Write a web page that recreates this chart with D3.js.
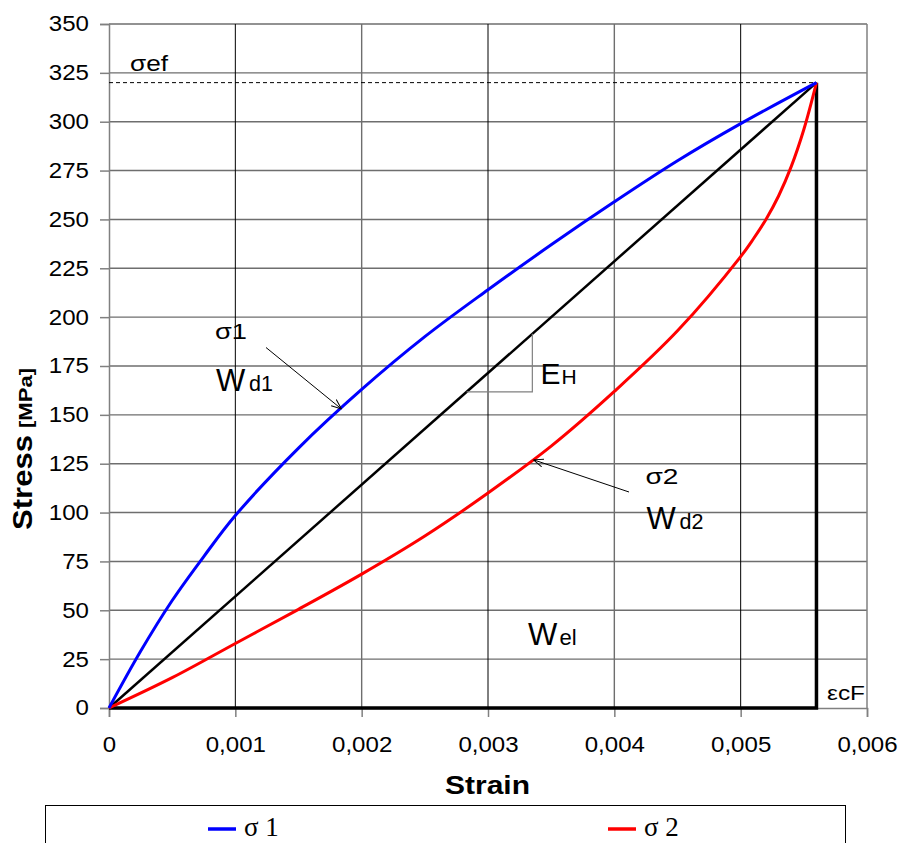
<!DOCTYPE html>
<html><head><meta charset="utf-8">
<script src="https://cdn.jsdelivr.net/npm/d3@7"></script>
<style>body{margin:0;background:#fff}svg{display:block}</style>
</head><body>
<svg id="c" width="899" height="843"></svg>
<script>
// Data
const strainTicks = [0, 0.001, 0.002, 0.003, 0.004, 0.005, 0.006];
const strainTickLabels = ["0", "0,001", "0,002", "0,003", "0,004", "0,005", "0,006"];
const stressTicks = [0, 25, 50, 75, 100, 125, 150, 175, 200, 225, 250, 275, 300, 325, 350];
const sigma1Strain = [0, 0.00025, 0.0005, 0.00075, 0.001, 0.0015, 0.002, 0.0025, 0.003, 0.0035, 0.004, 0.0045, 0.005, 0.0056];
const sigma1Stress = [0, 29, 55, 77.5, 98.5, 133, 163, 190, 214, 237, 259, 280, 299, 320];
const sigma2Strain = [0, 0.0005, 0.001, 0.0015, 0.002, 0.0025, 0.003, 0.0035, 0.004, 0.0045, 0.005, 0.0051, 0.0052, 0.0053, 0.0054, 0.0055, 0.0056];
const sigma2Stress = [0, 15.5, 33, 50.5, 68.5, 88, 110, 134, 162, 193, 231, 240, 250, 262, 277, 296, 320];
const strainF = 0.0056, sigmaEF = 320;
const seriesNames = ["σ 1", "σ 2"];
const seriesColors = ["#0000ff", "#ff0000"];

const svg = d3.select("#c");
const x = d3.scaleLinear().domain([0, 0.006]).range([109, 867]);
const y = d3.scaleLinear().domain([0, 350]).range([708, 24]);
const font = "Liberation Sans, Arial, sans-serif";
const SX = 1.12;

// horizontal grid (gray)
svg.append("g").selectAll("line").data(stressTicks.slice(1)).join("line")
  .attr("x1", x(0)).attr("x2", x(0.006)).attr("y1", d => y(d)).attr("y2", d => y(d))
  .attr("stroke", "#6e6e6e").attr("stroke-width", 1.4);
// vertical grid
svg.append("g").selectAll("line").data(strainTicks.slice(1, -1)).join("line")
  .attr("x1", d => x(d)).attr("x2", d => x(d)).attr("y1", y(0)).attr("y2", y(350))
  .attr("stroke", (d, i) => i % 2 ? "#6e6e6e" : "#000").attr("stroke-width", (d, i) => i % 2 ? 1.4 : 1);
// right border
svg.append("line").attr("x1", x(0.006)).attr("x2", x(0.006)).attr("y1", y(0)).attr("y2", y(350))
  .attr("stroke", "#808080").attr("stroke-width", 1.5);

// axes
const yAxis = d3.axisLeft(y).tickValues(stressTicks).tickSize(9).tickPadding(11);
const gy = svg.append("g").attr("transform", `translate(${x(0)},0)`).call(yAxis);
const xAxis = d3.axisBottom(x).tickValues(strainTicks).tickFormat((d, i) => strainTickLabels[i]).tickSize(9).tickPadding(20);
const gx = svg.append("g").attr("transform", `translate(0,${y(0)})`).call(xAxis);
[gx, gy].forEach(g => {
  g.select(".domain").attr("stroke", "#808080").attr("stroke-width", 1.5);
  g.selectAll(".tick line").attr("stroke", "#808080").attr("stroke-width", 1.5);
  g.selectAll("text").attr("font-family", font).attr("font-size", 21.5).attr("fill", "#000");
});
gy.selectAll(".tick text").attr("x", -20 / SX).attr("transform", `scale(${SX},1)`);
gx.selectAll(".tick text").attr("transform", `scale(${SX},1)`);

// dashed sigma_ef line
svg.append("line").attr("x1", x(0)).attr("x2", x(strainF)).attr("y1", y(sigmaEF)).attr("y2", y(sigmaEF))
  .attr("stroke", "#000").attr("stroke-width", 1).attr("stroke-dasharray", "4,3");

const line = d3.line().x(d => x(d[0])).y(d => y(d[1]));
// triangle W_el
svg.append("path").attr("d", line([[0, 0], [strainF, sigmaEF]])).attr("stroke", "#000").attr("stroke-width", 2.5).attr("fill", "none");
svg.append("path").attr("d", line([[strainF, sigmaEF], [strainF, 0], [0, 0]])).attr("stroke", "#000").attr("stroke-width", 3.5).attr("fill", "none");

// curves
const s1 = sigma1Strain.map((d, i) => [d, sigma1Stress[i]]);
const s2 = sigma2Strain.map((d, i) => [d, sigma2Stress[i]]);
const curve = d3.line().x(d => x(d[0])).y(d => y(d[1])).curve(d3.curveCatmullRom.alpha(0.5));
svg.append("path").attr("d", curve(s2)).attr("stroke", seriesColors[1]).attr("stroke-width", 3).attr("fill", "none");
svg.append("path").attr("d", curve(s1)).attr("stroke", seriesColors[0]).attr("stroke-width", 3).attr("fill", "none");

// E_H slope triangle
const ehA = 0.002831, ehB = 0.003351;
svg.append("path").attr("d", `M${x(ehA)},${y(sigmaEF * ehA / strainF)}H${x(ehB)}V${y(sigmaEF * ehB / strainF)}`)
  .attr("stroke", "#808080").attr("stroke-width", 1.2).attr("fill", "none");

// arrows
const defs = svg.append("defs");
defs.append("marker").attr("id", "ah").attr("viewBox", "0 0 10 10").attr("refX", 10).attr("refY", 5)
  .attr("markerWidth", 10).attr("markerHeight", 10).attr("orient", "auto").attr("markerUnits", "userSpaceOnUse")
  .append("path").attr("d", "M0,1L10,5L0,9").attr("fill", "none").attr("stroke", "#000").attr("stroke-width", 1);
svg.append("line").attr("x1", 266).attr("y1", 347.5).attr("x2", x(0.00184)).attr("y2", y(153))
  .attr("stroke", "#000").attr("stroke-width", 1).attr("marker-end", "url(#ah)");
svg.append("line").attr("x1", 629).attr("y1", 492).attr("x2", x(0.00336)).attr("y2", y(127))
  .attr("stroke", "#000").attr("stroke-width", 1).attr("marker-end", "url(#ah)");

// text labels
function txt(xp, yp, s, size, len) {
  const t = svg.append("text").attr("x", xp).attr("y", yp).attr("font-family", font).attr("font-size", size).attr("fill", "#000").text(s);
  if (len) t.attr("textLength", len).attr("lengthAdjust", "spacingAndGlyphs");
  return t;
}
txt(130, 70.5, "σef", 21.5, 38);
txt(215, 338.5, "σ1", 21.5, 32);
txt(216, 390.5, "W", 31);
txt(249, 390.5, "d1", 21.5);
txt(540.5, 383.5, "E", 30);
txt(561.5, 383.5, "H", 21);
txt(645.5, 484, "σ2", 21.5, 33);
txt(646.5, 529, "W", 31);
txt(679.5, 529, "d2", 21.5);
txt(528, 645, "W", 31);
txt(559.5, 645, "el", 22);
txt(827, 700, "εcF", 21, 38);

// axis titles
svg.append("text").attr("x", 445).attr("y", 794)
  .attr("font-family", font).attr("font-weight", "bold").attr("font-size", 26.5)
  .attr("textLength", 85).attr("lengthAdjust", "spacingAndGlyphs").text("Strain");
svg.append("text").attr("transform", "translate(32,530) rotate(-90)")
  .attr("font-family", font).attr("font-weight", "bold").attr("font-size", 28)
  .attr("textLength", 95).attr("lengthAdjust", "spacingAndGlyphs").text("Stress");
svg.append("text").attr("transform", "translate(32,428) rotate(-90)")
  .attr("font-family", font).attr("font-weight", "bold").attr("font-size", 18)
  .attr("textLength", 60).attr("lengthAdjust", "spacingAndGlyphs").text("[MPa]");

// legend
svg.append("rect").attr("x", 45.5).attr("y", 805.5).attr("width", 800).attr("height", 50)
  .attr("fill", "#fff").attr("stroke", "#000").attr("stroke-width", 1);
const legX = [208, 608];
seriesNames.forEach((n, i) => {
  svg.append("line").attr("x1", legX[i]).attr("x2", legX[i] + 28).attr("y1", 829).attr("y2", 829)
    .attr("stroke", seriesColors[i]).attr("stroke-width", 3.5);
  svg.append("text").attr("x", legX[i] + 36).attr("y", 836).attr("font-family", "Liberation Serif, Times New Roman, serif")
    .attr("font-size", 27).text(n);
});
</script>
</body></html>
